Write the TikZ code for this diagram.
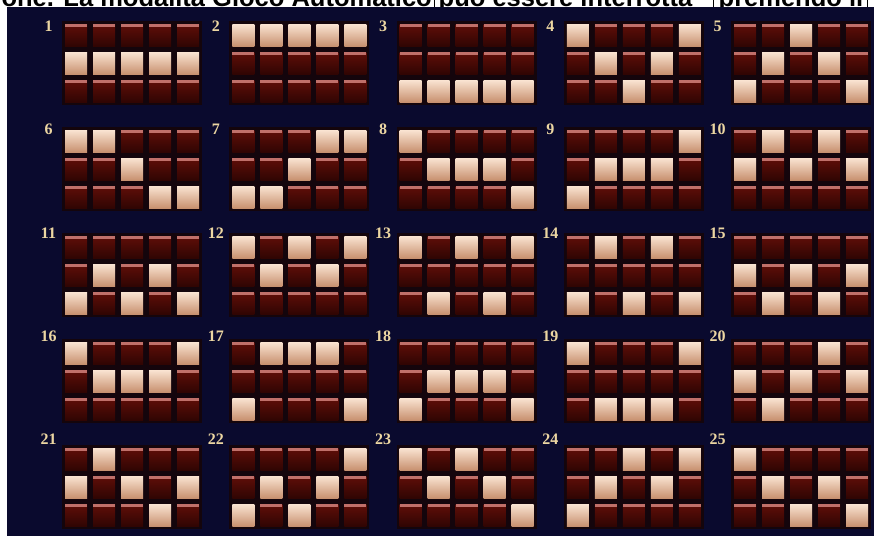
\documentclass[tikz,border=0pt]{standalone}
\usepackage{fontspec}
\newfontfamily\hdfont{Liberation Sans}
\newfontfamily\numfont{Liberation Serif}
\definecolor{navy}{RGB}{10,10,46}
\definecolor{gridbg}{RGB}{20,5,12}
\definecolor{maroonT}{RGB}{96,14,8}
\definecolor{maroonB}{RGB}{48,5,3}
\definecolor{lidpink}{RGB}{192,112,106}
\definecolor{peachT}{RGB}{250,228,210}
\definecolor{peachM}{RGB}{238,202,178}
\definecolor{peachB}{RGB}{200,145,112}
\definecolor{numcol}{RGB}{236,214,162}
\tikzset{
  headtext/.style={inner sep=0pt, font=\hdfont\bfseries\fontsize{25.5}{25.5}\selectfont, text=black},
  numstyle/.style={inner sep=0pt, font=\numfont\bfseries\fontsize{16}{16}\selectfont, text=numcol},
  darkcell/.style={top color=maroonT, bottom color=maroonB},
  lightcell/.style={top color=peachT, middle color=peachM, bottom color=peachB},
  lidstripe/.style={fill=lidpink},
  panelbg/.style={fill=gridbg},
  sepline/.style={draw=black, line width=1pt}
}
\begin{document}
\begin{tikzpicture}[x=1pt,y=-1pt]
\useasboundingbox (0,0) rectangle (874,536);
\clip (0,0) rectangle (874,536);
\fill[white] (0,0) rectangle (874,536);
\node[headtext, anchor=base east] (t1) at (432,6.5) {one. La modalità Gioco Automatico};
\node[headtext, anchor=base west] (t2) at (438.5,6.5) {può essere interrotta};
\node[headtext, anchor=base west] (t3) at (718.5,6.5) {premendo il};
\coordinate (l1a) at (434,0); \coordinate (l1b) at (434,7);
\coordinate (l2a) at (713,0); \coordinate (l2b) at (713,7);
\coordinate (l3a) at (867,0); \coordinate (l3b) at (867,7);
\draw[sepline] (l1a) -- (l1b);
\draw[sepline] (l2a) -- (l2b);
\draw[sepline] (l3a) -- (l3b);
\fill[navy] (7,7) rectangle (874,536);
\foreach \n/\p in {
 1/{0,0,0,0,0,1,1,1,1,1,0,0,0,0,0},
 2/{1,1,1,1,1,0,0,0,0,0,0,0,0,0,0},
 3/{0,0,0,0,0,0,0,0,0,0,1,1,1,1,1},
 4/{1,0,0,0,1,0,1,0,1,0,0,0,1,0,0},
 5/{0,0,1,0,0,0,1,0,1,0,1,0,0,0,1},
 6/{1,1,0,0,0,0,0,1,0,0,0,0,0,1,1},
 7/{0,0,0,1,1,0,0,1,0,0,1,1,0,0,0},
 8/{1,0,0,0,0,0,1,1,1,0,0,0,0,0,1},
 9/{0,0,0,0,1,0,1,1,1,0,1,0,0,0,0},
 10/{0,1,0,1,0,1,0,1,0,1,0,0,0,0,0},
 11/{0,0,0,0,0,0,1,0,1,0,1,0,1,0,1},
 12/{1,0,1,0,1,0,1,0,1,0,0,0,0,0,0},
 13/{1,0,1,0,1,0,0,0,0,0,0,1,0,1,0},
 14/{0,1,0,1,0,0,0,0,0,0,1,0,1,0,1},
 15/{0,0,0,0,0,1,0,1,0,1,0,1,0,1,0},
 16/{1,0,0,0,1,0,1,1,1,0,0,0,0,0,0},
 17/{0,1,1,1,0,0,0,0,0,0,1,0,0,0,1},
 18/{0,0,0,0,0,0,1,1,1,0,1,0,0,0,1},
 19/{1,0,0,0,1,0,0,0,0,0,0,1,1,1,0},
 20/{0,0,0,1,0,1,0,1,0,1,0,1,0,0,0},
 21/{0,1,0,0,0,1,0,1,0,1,0,0,0,1,0},
 22/{0,0,0,0,1,0,1,0,1,0,1,0,1,0,0},
 23/{1,0,1,0,0,0,1,0,1,0,0,0,0,0,1},
 24/{0,0,1,0,1,0,1,0,1,0,1,0,0,0,0},
 25/{1,0,0,0,0,0,1,0,1,0,0,0,1,0,1}}{
  \pgfmathtruncatemacro\r{int((\n-1)/5)}
  \pgfmathtruncatemacro\c{mod(\n-1,5)}
  \pgfmathsetmacro\xo{65+167.25*\c}
  \pgfmathsetmacro\yo{24+106*\r}
  \pgfmathsetmacro\ny{26.5+103.25*\r}
  \fill[panelbg] (\xo-3,\yo-3) rectangle ++(140,84);
  \node[numstyle] (num\n) at (\xo-16.5,\ny) {\n};
  \foreach \v [count=\k from 0] in \p {
    \pgfmathtruncatemacro\i{int(\k/5)}
    \pgfmathtruncatemacro\j{mod(\k,5)}
    \pgfmathsetmacro\cx{\xo+28*\j}
    \pgfmathsetmacro\cy{\yo+28*\i}
    \ifnum\v=1
      \fill[lightcell] (\cx,\cy) rectangle ++(22,22);
    \else
      \fill[darkcell] (\cx,\cy) rectangle ++(22,22);
      \fill[lidstripe] (\cx,\cy) rectangle ++(22,3);
    \fi
  }
}
\end{tikzpicture}
\end{document}
